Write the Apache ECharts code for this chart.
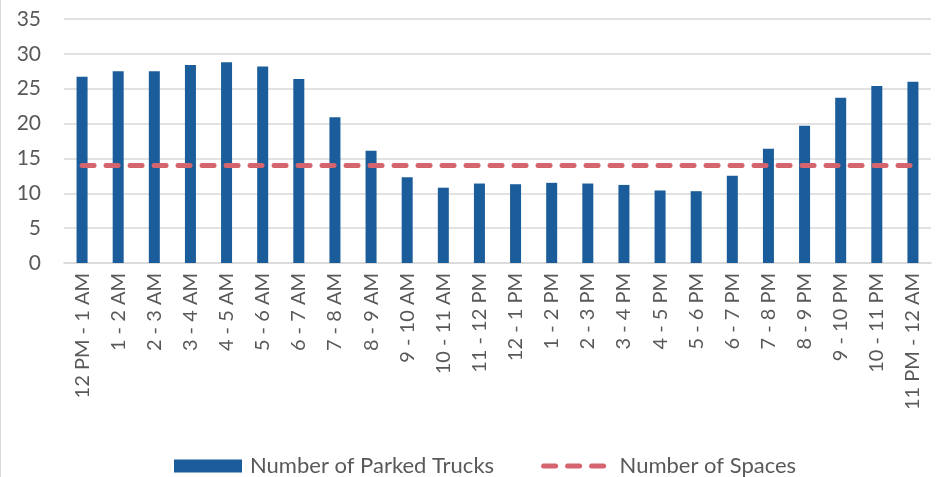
<!DOCTYPE html>
<html>
<head>
<meta charset="utf-8">
<script src="https://cdn.jsdelivr.net/npm/echarts@6/dist/echarts.min.js"></script>
<style>
  html, body { margin: 0; padding: 0; background: #fff; }
  #chart { width: 936px; height: 477px; }
</style>
</head>
<body>
<div id="chart"></div>
<script>
// Hourly periods across the day
const hours = [
  '12 PM - 1 AM', '1 - 2 AM', '2 - 3 AM', '3 - 4 AM', '4 - 5 AM', '5 - 6 AM',
  '6 - 7 AM', '7 - 8 AM', '8 - 9 AM', '9 - 10 AM', '10 - 11 AM', '11 - 12 PM',
  '12 - 1 PM', '1 - 2 PM', '2 - 3 PM', '3 - 4 PM', '4 - 5 PM', '5 - 6 PM',
  '6 - 7 PM', '7 - 8 PM', '8 - 9 PM', '9 - 10 PM', '10 - 11 PM', '11 PM - 12 AM'
];

// Average number of trucks parked in each hour
const parkedTrucks = [
  26.7, 27.5, 27.5, 28.4, 28.8, 28.2,
  26.4, 20.9, 16.1, 12.3, 10.8, 11.4,
  11.3, 11.5, 11.4, 11.2, 10.4, 10.3,
  12.5, 16.4, 19.7, 23.7, 25.4, 26.0
];

// Available parking spaces (constant capacity)
const spaces = [
  14, 14, 14, 14, 14, 14, 14, 14, 14, 14, 14, 14,
  14, 14, 14, 14, 14, 14, 14, 14, 14, 14, 14, 14
];

const yTicks = { min: 0, max: 35, interval: 5 };

const textColor = '#595959';
const fontFamily = 'Lato, "Noto Sans", sans-serif';
const barColor = '#1b5c9a';
const lineColor = '#d4646d';
const spacesLine = { color: lineColor, width: 5, type: [12, 12], cap: 'round' };

const chart = echarts.init(document.getElementById('chart'), null, { renderer: 'canvas' });

chart.setOption({
  backgroundColor: '#ffffff',
  animation: false,
  textStyle: { fontFamily: fontFamily, color: textColor },
  grid: { left: 64, right: 5, top: 19, bottom: 214, containLabel: false },
  graphic: [{
    type: 'line',
    shape: { x1: 0.5, y1: 0, x2: 0.5, y2: 477 },
    style: { stroke: '#d9d9d9', lineWidth: 1 }
  }],
  legend: {
    left: 174,
    top: 455,
    padding: 0,
    itemGap: 47,
    itemWidth: 68,
    itemHeight: 13,
    textStyle: { fontSize: 22, color: textColor, fontFamily: fontFamily, padding: [0, 0, 0, 3] },
    data: [
      { name: 'Number of Parked Trucks', icon: 'rect' },
      {
        name: 'Number of Spaces',
        itemStyle: { opacity: 0 },
        lineStyle: spacesLine
      }
    ]
  },
  xAxis: {
    type: 'category',
    data: hours,
    axisLine: { show: true, lineStyle: { color: '#d9d9d9', width: 1.5 } },
    axisTick: { show: false },
    axisLabel: {
      rotate: 90,
      interval: 0,
      margin: 10,
      fontSize: 20,
      color: textColor,
      fontFamily: fontFamily
    }
  },
  yAxis: {
    type: 'value',
    min: yTicks.min,
    max: yTicks.max,
    interval: yTicks.interval,
    axisLine: { show: false },
    axisTick: { show: false },
    splitLine: { lineStyle: { color: '#d9d9d9', width: 1.5 } },
    axisLabel: { fontSize: 21, color: textColor, margin: 23, fontFamily: fontFamily }
  },
  series: [
    {
      name: 'Number of Parked Trucks',
      type: 'bar',
      data: parkedTrucks,
      barWidth: 11,
      itemStyle: { color: barColor }
    },
    {
      name: 'Number of Spaces',
      type: 'line',
      data: spaces,
      symbol: 'none',
      showSymbol: false,
      lineStyle: spacesLine,
      itemStyle: { color: lineColor },
      z: 3
    }
  ]
});
</script>
</body>
</html>
